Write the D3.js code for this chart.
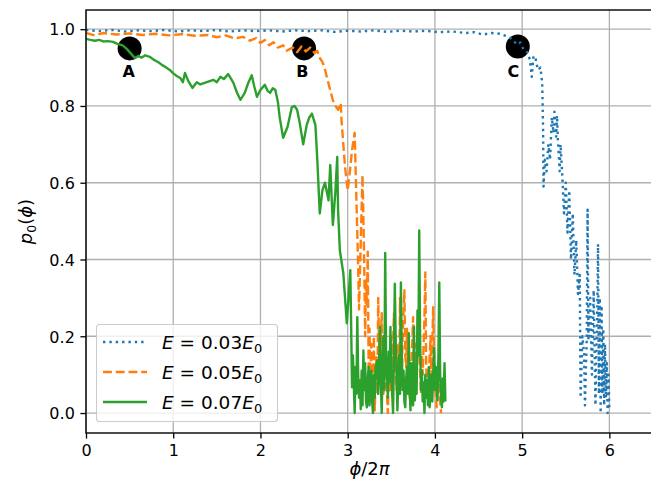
<!DOCTYPE html>
<html>
<head>
<meta charset="utf-8">
<style>
    body { margin: 0; background: #fff; }
    svg { display: block; font-family: "DejaVu Sans", sans-serif; }
    .axis .tick text { font-size: 16px; fill: #000; font-family: "DejaVu Sans", sans-serif; }
    .axis .tick line { stroke: #000; stroke-width: 1.3; }
    .grid line { stroke: #b0b0b0; stroke-width: 1.3; }
    .mark-label { font-size: 16px; font-weight: bold; }
</style>
</head>
<body>
<svg width="651" height="489"></svg>
<script src="https://d3js.org/d3.v7.min.js"></script>
<script>
    // values (phi/2pi, p0)
    let curve03 = [[0,0.998],[0.15,0.995],[0.3,0.998],[0.45,0.994],[0.6,0.997],[0.75,0.995],[0.9,0.998],[1.05,0.994],[1.2,0.997],[1.35,0.995],[1.5,0.998],[1.65,0.994],[1.8,0.997],[1.95,0.995],[2.1,0.997],[2.25,0.994],[2.4,0.997],[2.55,0.995],[2.7,0.997],[2.85,0.993],[3.0,0.996],[3.15,0.994],[3.3,0.997],[3.45,0.993],[3.6,0.996],[3.75,0.994],[3.9,0.996],[4.05,0.992],[4.2,0.994],[4.35,0.99],[4.45,0.992],[4.55,0.986],[4.65,0.99],[4.75,0.988],[4.82,0.982],[4.88,0.975],[4.94,0.96],[4.98,0.965],[5.02,0.945],[5.06,0.94],[5.09,0.92],[5.11,0.876],[5.13,0.93],[5.15,0.928],[5.18,0.894],[5.21,0.9],[5.23,0.86],[5.24,0.74],[5.245,0.59],[5.26,0.66],[5.28,0.63],[5.3,0.7],[5.32,0.66],[5.34,0.77],[5.36,0.73],[5.37,0.785],[5.39,0.72],[5.4,0.775],[5.41,0.71],[5.43,0.63],[5.44,0.7],[5.46,0.62],[5.48,0.52],[5.5,0.6],[5.52,0.47],[5.54,0.58],[5.56,0.4],[5.58,0.52],[5.6,0.36],[5.62,0.45],[5.64,0.31],[5.66,0.36],[5.67,0.04],[5.69,0.2],[5.71,0.155],[5.72,0.02],[5.74,0.19],[5.75,0.53],[5.76,0.19],[5.78,0.3],[5.8,0.1],[5.82,0.32],[5.84,0.02],[5.86,0.25],[5.87,0.44],[5.88,0.05],[5.89,0.3],[5.9,0.0],[5.91,0.28],[5.92,0.05],[5.93,0.22],[5.94,0.02],[5.95,0.18],[5.96,0.04],[5.97,0.13],[5.98,0.0],[5.99,0.1],[6.0,0.01]]

    let curve05 = [[0,0.99],[0.1,0.984],[0.2,0.99],[0.35,0.986],[0.5,0.989],[0.65,0.985],[0.8,0.988],[0.95,0.984],[1.1,0.987],[1.25,0.983],[1.4,0.985],[1.5,0.979],[1.6,0.984],[1.7,0.976],[1.8,0.98],[1.88,0.97],[1.95,0.977],[2.0,0.964],[2.05,0.972],[2.1,0.958],[2.15,0.966],[2.2,0.952],[2.26,0.958],[2.3,0.944],[2.37,0.952],[2.42,0.94],[2.47,0.955],[2.52,0.942],[2.57,0.952],[2.62,0.938],[2.65,0.944],[2.68,0.925],[2.71,0.915],[2.74,0.895],[2.76,0.876],[2.8,0.841],[2.83,0.815],[2.86,0.8],[2.89,0.79],[2.92,0.807],[2.93,0.76],[2.95,0.7],[2.97,0.64],[3.0,0.58],[3.03,0.64],[3.05,0.685],[3.08,0.73],[3.09,0.64],[3.1,0.554],[3.11,0.47],[3.12,0.38],[3.13,0.27],[3.15,0.45],[3.17,0.62],[3.18,0.51],[3.19,0.38],[3.2,0.2],[3.21,0.35],[3.22,0.28],[3.23,0.42],[3.24,0.12],[3.25,0.22],[3.26,0.1],[3.27,0.18],[3.28,0.05],[3.29,0.077],[3.3,0.2],[3.31,0.007],[3.32,0.09],[3.33,0.15],[3.34,0.05],[3.35,0.3],[3.36,0.18],[3.37,0.12],[3.38,0.2],[3.39,0.26],[3.4,0.1],[3.41,0.05],[3.42,0.14],[3.43,0.067],[3.44,0.1],[3.46,0.0],[3.47,0.08],[3.48,0.14],[3.49,0.06],[3.5,0.2],[3.51,0.1],[3.53,0.26],[3.54,0.12],[3.56,0.06],[3.57,0.12],[3.58,0.18],[3.59,0.05],[3.6,0.3],[3.61,0.15],[3.62,0.08],[3.63,0.2],[3.65,0.32],[3.66,0.15],[3.67,0.12],[3.68,0.22],[3.69,0.16],[3.7,0.06],[3.72,0.03],[3.73,0.12],[3.75,0.25],[3.76,0.14],[3.77,0.1],[3.78,0.18],[3.79,0.077],[3.8,0.15],[3.82,0.27],[3.83,0.12],[3.84,0.05],[3.85,0.15],[3.86,0.1],[3.88,0.25],[3.89,0.366],[3.9,0.12],[3.92,0.04],[3.93,0.1],[3.95,0.2],[3.96,0.08],[3.98,0.276],[3.99,0.15],[4.0,0.1],[4.01,0.05],[4.02,0.015],[4.03,0.12],[4.05,0.09],[4.06,0.03],[4.07,0.0]]

    let curve07 = [[0,0.975],[0.05,0.972],[0.1,0.97],[0.15,0.972],[0.2,0.968],[0.25,0.969],[0.31,0.967],[0.36,0.962],[0.42,0.958],[0.47,0.948],[0.52,0.935],[0.56,0.925],[0.6,0.93],[0.64,0.926],[0.68,0.932],[0.73,0.928],[0.78,0.92],[0.83,0.914],[0.87,0.907],[0.92,0.9],[0.96,0.894],[1.0,0.885],[1.04,0.878],[1.08,0.873],[1.11,0.862],[1.135,0.886],[1.17,0.866],[1.22,0.847],[1.27,0.862],[1.31,0.856],[1.36,0.86],[1.41,0.864],[1.46,0.868],[1.5,0.862],[1.54,0.876],[1.58,0.87],[1.63,0.883],[1.66,0.872],[1.69,0.86],[1.73,0.835],[1.77,0.816],[1.82,0.834],[1.86,0.86],[1.9,0.88],[1.93,0.85],[1.96,0.824],[2.0,0.842],[2.05,0.855],[2.08,0.84],[2.11,0.834],[2.14,0.846],[2.17,0.842],[2.2,0.81],[2.22,0.771],[2.26,0.717],[2.31,0.745],[2.36,0.797],[2.39,0.8],[2.42,0.79],[2.45,0.756],[2.49,0.7],[2.53,0.75],[2.56,0.77],[2.59,0.78],[2.63,0.75],[2.65,0.667],[2.68,0.52],[2.71,0.58],[2.74,0.6],[2.78,0.554],[2.8,0.646],[2.83,0.49],[2.86,0.58],[2.88,0.667],[2.89,0.528],[2.91,0.424],[2.95,0.364],[2.99,0.234],[3.03,0.372],[3.05,0.067],[3.06,0.15],[3.08,0.0],[3.09,0.12],[3.1,0.05],[3.11,0.25],[3.12,0.1],[3.13,0.04],[3.14,0.085],[3.15,0.01],[3.16,0.11],[3.17,0.02],[3.18,0.163],[3.19,0.06],[3.2,0.13],[3.21,0.03],[3.22,0.015],[3.23,0.09],[3.24,0.12],[3.25,0.02],[3.26,0.067],[3.27,0.11],[3.28,0.03],[3.29,0.0],[3.3,0.1],[3.31,0.04],[3.32,0.12],[3.34,0.137],[3.35,0.05],[3.37,0.224],[3.38,0.08],[3.39,0.0],[3.4,0.12],[3.41,0.2],[3.42,0.06],[3.43,0.417],[3.44,0.15],[3.45,0.1],[3.46,0.04],[3.47,0.16],[3.48,0.08],[3.49,0.224],[3.5,0.1],[3.51,0.05],[3.52,0.0],[3.53,0.15],[3.54,0.337],[3.55,0.2],[3.56,0.1],[3.57,0.007],[3.58,0.09],[3.59,0.15],[3.6,0.05],[3.61,0.34],[3.62,0.15],[3.63,0.06],[3.64,0.11],[3.65,0.03],[3.66,0.015],[3.67,0.09],[3.68,0.12],[3.69,0.05],[3.7,0.208],[3.71,0.06],[3.72,0.007],[3.73,0.13],[3.74,0.1],[3.75,0.02],[3.76,0.224],[3.77,0.033],[3.78,0.12],[3.79,0.05],[3.8,0.267],[3.81,0.15],[3.82,0.476],[3.83,0.2],[3.84,0.06],[3.85,0.11],[3.86,0.03],[3.87,0.08],[3.88,0.0],[3.89,0.1],[3.9,0.04],[3.91,0.085],[3.92,0.02],[3.93,0.12],[3.94,0.015],[3.95,0.06],[3.96,0.1],[3.97,0.03],[3.99,0.17],[4.0,0.06],[4.01,0.12],[4.03,0.033],[4.04,0.15],[4.05,0.34],[4.06,0.1],[4.07,0.04],[4.08,0.015],[4.09,0.09],[4.1,0.03],[4.11,0.13],[4.12,0.03]]

    let seriesNames = ["0.03", "0.05", "0.07"]
    let seriesColors = ["#1f77b4", "#ff7f0e", "#2ca02c"]
    let seriesDash = ["2.4,3.96", "8.9,3.84", null]

    let xTicks = [0, 1, 2, 3, 4, 5, 6]
    let yTicks = [0, 0.2, 0.4, 0.6, 0.8, 1.0]

    // marked points A, B, C and where their letters sit
    let markNames = ["A", "B", "C"]
    let markPoints = [[0.5, 0.95], [2.5, 0.95], [4.95, 0.955]]
    let markLabelPos = [[0.49, 0.875], [2.48, 0.875], [4.9, 0.875]]

    let margin = { top: 10, right: 653, bottom: 433, left: 86 }

    let svg = d3.select("svg")

    let x = d3.scaleLinear()
        .domain([0, 6.5])
        .range([margin.left, margin.right])

    let y = d3.scaleLinear()
        .domain([-0.052, 1.05])
        .range([margin.bottom, margin.top])

    svg.append("defs").append("clipPath")
        .attr("id", "plot-clip")
        .append("rect")
        .attr("x", margin.left)
        .attr("y", margin.top)
        .attr("width", margin.right - margin.left)
        .attr("height", margin.bottom - margin.top)

    // grid
    let grid = svg.append("g").attr("class", "grid")
    grid.selectAll(".gx")
        .data(xTicks)
        .join("line")
        .attr("x1", d => x(d)).attr("x2", d => x(d))
        .attr("y1", margin.top).attr("y2", margin.bottom)
    grid.selectAll(".gy")
        .data(yTicks)
        .join("line")
        .attr("x1", margin.left).attr("x2", margin.right)
        .attr("y1", d => y(d)).attr("y2", d => y(d))

    // black markers (under the curves)
    svg.append("g")
        .selectAll("circle")
        .data(markPoints)
        .join("circle")
        .attr("cx", d => x(d[0]))
        .attr("cy", d => y(d[1]))
        .attr("r", 12)
        .attr("fill", "#000")

    svg.append("g")
        .selectAll("text")
        .data(markNames)
        .join("text")
        .attr("class", "mark-label")
        .attr("x", (d, i) => x(markLabelPos[i][0]))
        .attr("y", (d, i) => y(markLabelPos[i][1]))
        .attr("text-anchor", "middle")
        .text(d => d)

    let line = d3.line()
        .x(d => x(d[0]))
        .y(d => y(d[1]))

    let curves = [curve03, curve05, curve07]

    svg.append("g")
        .attr("clip-path", "url(#plot-clip)")
        .selectAll("path")
        .data(curves)
        .join("path")
        .attr("fill", "none")
        .attr("stroke", (d, i) => seriesColors[i])
        .attr("stroke-width", 2.4)
        .attr("stroke-linejoin", "round")
        .attr("stroke-dasharray", (d, i) => seriesDash[i])
        .attr("d", line)

    // axes
    let xAxis = svg.append("g")
        .attr("class", "x axis")
        .attr("transform", `translate(0,${margin.bottom})`)
        .call(d3.axisBottom(x).tickValues(xTicks).tickSize(5.6).tickPadding(5.6).tickFormat(d3.format("d")))
        .call(g => g.select(".domain").remove())

    let yAxis = svg.append("g")
        .attr("class", "y axis")
        .attr("transform", `translate(${margin.left},0)`)
        .call(d3.axisLeft(y).tickValues(yTicks).tickSize(5.6).tickPadding(5.6).tickFormat(d3.format(".1f")))
        .call(g => g.select(".domain").remove())

    yAxis.selectAll(".tick text").attr("dy", "0.36em")

    // spines
    svg.append("rect")
        .attr("x", margin.left)
        .attr("y", margin.top)
        .attr("width", margin.right - margin.left)
        .attr("height", margin.bottom - margin.top)
        .attr("fill", "none")
        .attr("stroke", "#000")
        .attr("stroke-width", 1.4)

    // axis labels
    let xl = svg.append("text")
        .attr("x", (margin.left + margin.right) / 2)
        .attr("y", 475)
        .attr("text-anchor", "middle")
        .attr("font-size", 18)
    xl.append("tspan").attr("font-style", "italic").text("ϕ")
    xl.append("tspan").text("/2")
    xl.append("tspan").attr("font-style", "italic").text("π")

    let yl = svg.append("text")
        .attr("transform", `translate(32,${(margin.top + margin.bottom) / 2}) rotate(-90)`)
        .attr("text-anchor", "middle")
        .attr("font-size", 18)
    yl.append("tspan").attr("font-style", "italic").text("p")
    yl.append("tspan").attr("font-size", 12.5).attr("dy", 4).text("0")
    yl.append("tspan").attr("dy", -4).text("(")
    yl.append("tspan").attr("font-style", "italic").text("ϕ")
    yl.append("tspan").text(")")

    // legend
    let legend = svg.append("g")
    legend.append("rect")
        .attr("x", 96.5).attr("y", 324.5)
        .attr("width", 181).attr("height", 97)
        .attr("rx", 3)
        .attr("fill", "#fff").attr("fill-opacity", 0.8)
        .attr("stroke", "#cccccc").attr("stroke-width", 1.1)

    seriesNames.forEach((name, i) => {
        let cy = 342 + i * 30
        legend.append("line")
            .attr("x1", 103).attr("x2", 147)
            .attr("y1", cy).attr("y2", cy)
            .attr("stroke", seriesColors[i])
            .attr("stroke-width", 2.4)
            .attr("stroke-dasharray", seriesDash[i])
        let t = legend.append("text")
            .attr("x", 162).attr("y", cy + 6.5)
            .attr("font-size", 18.5)
        t.append("tspan").attr("font-style", "italic").text("E")
        t.append("tspan").text(" = " + name)
        t.append("tspan").attr("font-style", "italic").text("E")
        t.append("tspan").attr("font-size", 13).attr("dy", 4).text("0")
    })
</script>
</body>
</html>
